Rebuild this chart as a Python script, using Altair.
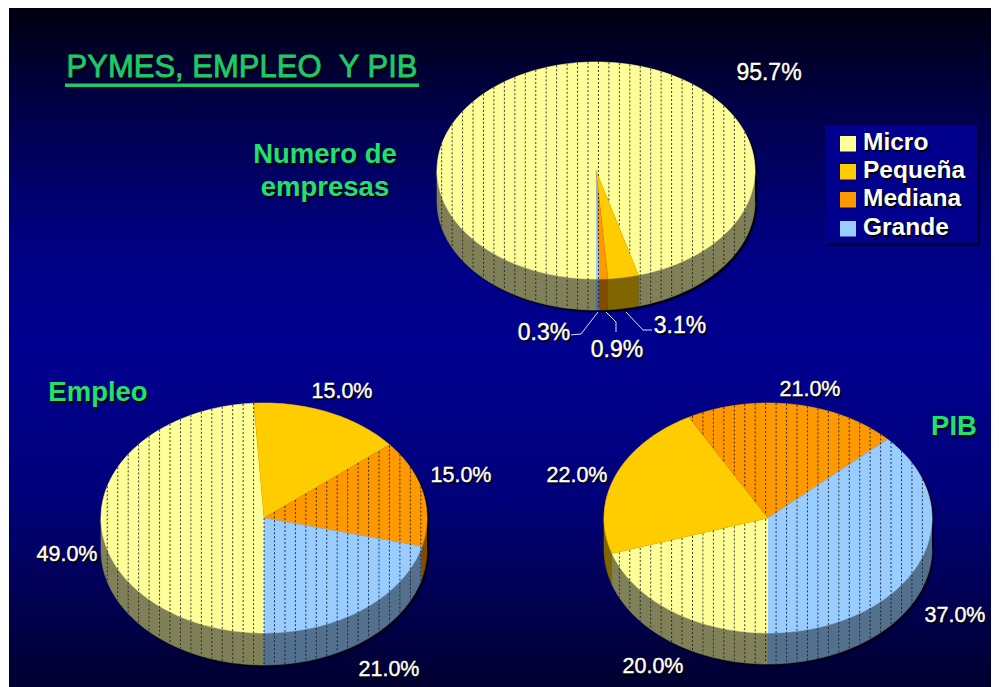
import math
import altair as alt
import pandas as pd

# ---- values ----
PARTS = ["Micro", "Pequeña", "Mediana", "Grande"]
EMPRESAS = [95.7, 3.1, 0.9, 0.3]
EMPLEO = [49.0, 15.0, 15.0, 21.0]
PIB = [20.0, 22.0, 21.0, 37.0]
FACE = ["#ffff99", "#ffcc00", "#ff9900", "#99ccff"]
SIDE = ["#808058", "#806600", "#804c00", "#53708f"]
STRIPED = [True, False, True, True]

# pie: values, cx, cy, rx, ry, depth
PIES = [
    ("empresas", EMPRESAS, 596, 170.5, 159, 108.5, 31),
    ("empleo", EMPLEO, 264, 518, 163, 115, 32),
    ("pib", PIB, 768, 518, 164, 115, 31),
]

LABELS_TOP = [("95.7%", 769, 73), ("3.1%", 680, 326), ("0.9%", 617, 350), ("0.3%", 544, 333)]
LABELS_BOTTOM = [
    ("15.0%", 342, 392), ("15.0%", 461, 476), ("49.0%", 67, 555), ("21.0%", 389, 670),
    ("21.0%", 810, 390), ("22.0%", 577, 476), ("37.0%", 955, 616), ("20.0%", 653, 667),
]
HEADINGS = [("Numero de", 325, 155), ("empresas", 325, 188), ("Empleo", 98, 393), ("PIB", 954, 427)]
LEADERS = {
    "a": [(598, 312), (581, 334), (570, 335)],
    "b": [(606, 312), (616, 322), (616, 332)],
    "c": [(626, 312), (643, 330), (652, 330)],
}

X = alt.Scale(domain=[8, 991], range=[0, 983], nice=False, zero=False)
Y = alt.Scale(domain=[8, 687], range=[0, 679], nice=False, zero=False)


def pt(cx, cy, rx, ry, t, dy=0.0):
    r = math.radians(t)
    return cx + rx * math.sin(r), cy - ry * math.cos(r) + dy


def arc(t0, t1):
    n = max(2, int(abs(t1 - t0) / 1.5) + 1)
    return [t0 + (t1 - t0) * i / (n - 1) for i in range(n)]


shadow, sides, faces, rules = [], [], [], []
for name, vals, cx, cy, rx, ry, depth in PIES:
    # silhouette, slightly offset, for the black rim
    i = 0
    for t in arc(90, 270):
        x, y = pt(cx, cy, rx, ry, t, depth)
        shadow.append(dict(id=name, o=i, x=x + 2, y=y + 2, c="#000018")); i += 1
    for t in arc(270, 450):
        x, y = pt(cx, cy, rx, ry, t)
        shadow.append(dict(id=name, o=i, x=x + 2, y=y + 2, c="#000018")); i += 1

    spans = []
    start = 180.0
    for k, v in enumerate(vals):
        end = start + v * 3.6
        spans.append((k, start, end))
        # face wedge
        pid = f"{name}-{k}"
        o = 0
        faces.append(dict(id=pid, o=o, x=cx, y=cy, c=FACE[k])); o += 1
        for t in arc(start, end):
            x, y = pt(cx, cy, rx, ry, t)
            faces.append(dict(id=pid, o=o, x=x, y=y, c=FACE[k])); o += 1
        # visible front wall: parts of the wedge in the lower half
        for lo, hi in ((90, 270), (450, 630)):
            a, b = max(start, lo), min(end, hi)
            if b <= a:
                continue
            sid = f"{pid}-{lo}"
            o = 0
            ts = arc(a, b)
            for t in ts:
                x, y = pt(cx, cy, rx, ry, t)
                sides.append(dict(id=sid, o=o, x=x, y=y, c=SIDE[k])); o += 1
            for t in reversed(ts):
                x, y = pt(cx, cy, rx, ry, t, depth)
                sides.append(dict(id=sid, o=o, x=x, y=y, c=SIDE[k])); o += 1
        start = end

    def part_at(t):
        t = (t - 180) % 360 + 180
        for k, a, b in spans:
            if a <= t <= b:
                return k
        return len(vals) - 1

    # dotted vertical hatching over the hatched parts
    sx = 10.45
    xpos = 441.7 + sx * math.ceil((cx - rx - 441.7) / sx)
    while xpos < cx + rx:
        s = (xpos - cx) / rx
        h = ry * math.sqrt(max(0.0, 1 - s * s))
        ybot = cy + h
        ylist = [cy - h + j for j in range(int(2 * h + depth) + 1)]
        run = None
        for yy in ylist + [None]:
            ok = False
            if yy is not None:
                if yy <= ybot:
                    t = math.degrees(math.atan2(s, -(yy - cy) / ry))
                else:
                    t = math.degrees(math.atan2(s, -h / ry))
                ok = STRIPED[part_at(t % 360)]
            if ok and run is None:
                run = yy
            if not ok and run is not None:
                prev = ylist[ylist.index(yy) - 1] if yy is not None else ylist[-1]
                rules.append(dict(x=xpos, y=run, y2=prev))
                run = None
        xpos += sx

x_ = alt.X("x:Q", scale=X, axis=None)
y_ = alt.Y("y:Q", scale=Y, axis=None)

bg = alt.Chart(pd.DataFrame([dict(x=9, x2=991, y=8, y2=687)])).mark_rect(
    fill=alt.Gradient(
        gradient="linear", x1=0, y1=0, x2=0, y2=1,
        stops=[
            alt.GradientStop(color="#000010", offset=0),
            alt.GradientStop(color="#000050", offset=0.17),
            alt.GradientStop(color="#000085", offset=0.36),
            alt.GradientStop(color="#000090", offset=0.5),
            alt.GradientStop(color="#00007a", offset=0.72),
            alt.GradientStop(color="#000030", offset=1),
        ],
    )
).encode(x=x_, x2="x2:Q", y=y_, y2="y2:Q")


def polys(rows):
    return alt.Chart(pd.DataFrame(rows)).mark_line(strokeWidth=0.6, interpolate="linear").encode(
        x=x_, y=y_, order="o:Q", detail="id:N",
        fill=alt.Fill("c:N", scale=None), stroke=alt.Stroke("c:N", scale=None),
    )


hatch = alt.Chart(pd.DataFrame(rules)).mark_rule(
    color="#1a1a20", strokeWidth=1, strokeDash=[2, 2], opacity=0.85
).encode(x=x_, y=y_, y2="y2:Q")

leader_rows = []
for key, pts in LEADERS.items():
    for o, (x, y) in enumerate(pts):
        leader_rows.append(dict(id=key, o=o, x=x, y=y))
leaders = alt.Chart(pd.DataFrame(leader_rows)).mark_line(color="#d8e4f0", strokeWidth=1).encode(
    x=x_, y=y_, order="o:Q", detail="id:N"
)


def texts(rows, size, color, weight="normal", align="center", thick=0.5):
    df = pd.DataFrame(rows, columns=["t", "x", "y"])
    base = dict(font="Liberation Sans", fontSize=size, fontWeight=weight, align=align, baseline="middle")
    fg = alt.Chart(df).mark_text(color=color, stroke=color, strokeWidth=thick, **base).encode(x=x_, y=y_, text="t:N")
    bk = alt.Chart(df).mark_text(color="#000000", stroke="#000000", strokeWidth=thick, dx=1.5, dy=1.5, **base).encode(
        x=x_, y=y_, text="t:N"
    )
    return [bk, fg]


title_layers = texts([("PYMES, EMPLEO \u00a0Y PIB", 242, 68)], 31, "#1fc86a", thick=0.8)
underline = alt.Chart(pd.DataFrame([dict(x=65, x2=419, y=83.5, y2=87)])).mark_rect(fill="#1fc86a").encode(
    x=x_, x2="x2:Q", y=y_, y2="y2:Q"
)

# legend
box_shadow = alt.Chart(pd.DataFrame([dict(x=828, x2=980, y=128, y2=246)])).mark_rect(fill="#000030").encode(
    x=x_, x2="x2:Q", y=y_, y2="y2:Q"
)
box = alt.Chart(pd.DataFrame([dict(x=825, x2=977, y=125, y2=243)])).mark_rect(fill="#00008c").encode(
    x=x_, x2="x2:Q", y=y_, y2="y2:Q"
)
SW_Y = [136, 164, 192, 221]
swatches = alt.Chart(pd.DataFrame(
    [dict(x=840, x2=856, y=v, y2=v + 15.5, c=c) for v, c in zip(SW_Y, FACE)]
)).mark_rect().encode(x=x_, x2="x2:Q", y=y_, y2="y2:Q", fill=alt.Fill("c:N", scale=None))
legend_text = texts([(p, 863, v + 7) for p, v in zip(PARTS, SW_Y)], 24.5, "#ffffff", weight="bold", align="left", thick=0)

layers = [bg, polys(shadow), polys(sides), polys(faces), hatch, leaders]
layers += title_layers + [underline]
layers += texts(HEADINGS, 27.5, "#22e070", weight="bold", thick=0)
layers += [box_shadow, box, swatches] + legend_text
layers += texts(LABELS_TOP, 23, "#ffffff", thick=0.4)
layers += texts(LABELS_BOTTOM, 21.5, "#ffffff", thick=0.4)

chart = alt.layer(*layers).properties(
    width=983, height=679, padding=0, background="#ffffff",
    autosize=alt.AutoSizeParams(type="none"),
).configure_view(stroke=None)

chart.save("out.html", embed_options={"renderer": "svg", "actions": False})
